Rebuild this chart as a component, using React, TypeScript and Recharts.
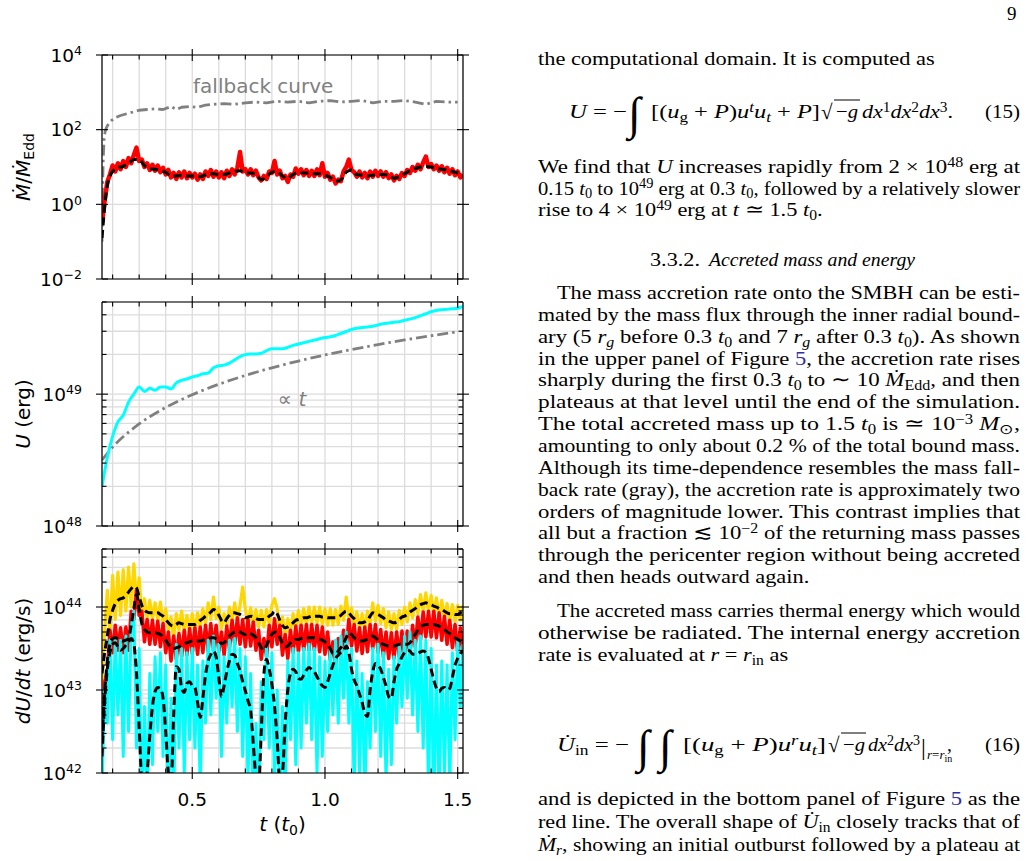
import React from "react";
import { LineChart, Line, XAxis, YAxis, CartesianGrid, ReferenceDot } from "recharts";

const SANS = "DejaVu Sans, sans-serif";
const SERIF = "Liberation Serif, Times New Roman, serif";
const LINK = "#30309c";
const GRAY = "#808080";

// ---- time axis, in units of t0 ----
const tDomain: [number, number] = [0.16, 1.52];
const tTicks = [0.2, 0.3, 0.4, 0.5, 0.6, 0.7, 0.8, 0.9, 1.0, 1.1, 1.2, 1.3, 1.4, 1.5];
const tLabelled = [0.5, 1.0, 1.5];

// ---- top panel: accretion rate / Eddington rate, log10 ----
const fallbackT = [
  0.16, 0.162, 0.165, 0.168, 0.172, 0.177, 0.185, 0.195, 0.21, 0.23, 0.25, 0.28, 0.3, 0.33, 0.36, 0.39,
  0.42, 0.44, 0.46, 0.49, 0.52, 0.55, 0.58, 0.62, 0.66, 0.7, 0.74, 0.78, 0.82, 0.86, 0.9, 0.94, 0.98,
  1.02, 1.06, 1.1, 1.14, 1.18, 1.22, 1.26, 1.3, 1.34, 1.38, 1.42, 1.46, 1.5,
];
const fallbackLog = [
  -1.0, 0.4, 1.3, 1.76, 1.96, 2.06, 2.16, 2.24, 2.32, 2.38, 2.42, 2.48, 2.52, 2.54, 2.56, 2.54,
  2.62, 2.54, 2.6, 2.62, 2.6, 2.66, 2.68, 2.7, 2.68, 2.72, 2.74, 2.72, 2.76, 2.74, 2.76, 2.72, 2.76,
  2.78, 2.74, 2.76, 2.78, 2.72, 2.76, 2.76, 2.78, 2.74, 2.68, 2.76, 2.74, 2.74,
];
// raw output every 0.01 t0 starting at 0.16
const mdotRawLog = [
  -0.5, 0.1, 0.6, 0.8, 1.04, 0.88, 1.1, 0.94, 1.16, 1.0,
  1.24, 1.1, 1.32, 1.52, 1.16, 1.2, 1.0, 1.1, 0.92, 1.06,
  0.9, 1.04, 0.86, 0.98, 0.8, 0.92, 0.72, 0.84, 0.68, 0.86,
  0.72, 0.88, 0.7, 0.84, 0.72, 0.82, 0.66, 0.8, 0.68, 0.88,
  0.76, 0.92, 0.74, 0.88, 0.72, 0.86, 0.7, 0.9, 0.76, 0.94,
  0.8, 0.98, 1.4, 0.88, 0.94, 0.8, 0.94, 0.78, 0.9, 0.72,
  0.64, 0.76, 0.68, 0.88, 0.84, 1.16, 0.8, 0.9, 0.7, 0.76,
  0.6, 0.8, 0.74, 0.96, 0.82, 0.94, 0.78, 0.92, 0.76, 0.9,
  0.76, 0.94, 0.78, 1.1, 0.74, 0.84, 0.66, 0.74, 0.56, 0.66,
  0.62, 0.88, 1.0, 1.2, 0.92, 0.86, 0.74, 0.88, 0.72, 0.84,
  0.7, 0.88, 0.74, 0.9, 0.76, 0.88, 0.74, 0.86, 0.7, 0.8,
  0.64, 0.76, 0.68, 0.84, 0.76, 0.92, 0.84, 1.0, 0.9, 1.06,
  0.94, 1.12, 1.28, 1.0, 1.08, 0.94, 1.04, 0.9, 1.02, 0.86,
  0.98, 0.82, 0.94, 0.78, 0.88, 0.72, 0.8,
];
// running mean every 0.02 t0 starting at 0.16
const mdotAvgLog = [
  -0.9, 0.5, 0.88, 0.98, 1.02, 1.1, 1.2, 1.2, 1.04, 0.96,
  0.94, 0.9, 0.86, 0.76, 0.76, 0.78, 0.76, 0.76, 0.74, 0.76,
  0.82, 0.82, 0.8, 0.8, 0.84, 0.88, 0.9, 0.84, 0.84, 0.8,
  0.66, 0.74, 0.86, 0.88, 0.76, 0.7, 0.8, 0.86, 0.84, 0.84,
  0.82, 0.82, 0.78, 0.72, 0.62, 0.66, 0.86, 0.92, 0.8, 0.78,
  0.76, 0.78, 0.8, 0.8, 0.78, 0.7, 0.74, 0.82, 0.9, 0.96,
  1.0, 1.02, 1.0, 0.96, 0.94, 0.92, 0.88, 0.84, 0.78,
];
const mdotTicks = [1e-2, 1, 1e2, 1e4];

// ---- middle panel: internal energy, log10 erg ----
// every 0.02 t0 starting at 0.16
const energyLog = [
  48.3, 48.52, 48.68, 48.79, 48.84, 48.94, 49.0, 49.055, 49.02, 49.045,
  49.03, 49.055, 49.055, 49.04, 49.085, 49.105, 49.115, 49.13, 49.14, 49.155,
  49.16, 49.2, 49.215, 49.22, 49.235, 49.26, 49.285, 49.3, 49.305, 49.305,
  49.31, 49.33, 49.345, 49.345, 49.345, 49.355, 49.37, 49.38, 49.39, 49.4,
  49.41, 49.42, 49.43, 49.435, 49.445, 49.46, 49.475, 49.49, 49.5, 49.505,
  49.51, 49.515, 49.525, 49.535, 49.54, 49.545, 49.55, 49.56, 49.57, 49.58,
  49.595, 49.61, 49.625, 49.635, 49.64, 49.643, 49.647, 49.652, 49.665,
];
const linearT = [0.16, 0.2, 0.3, 0.4, 0.5, 0.6, 0.7, 0.8, 0.9, 1.0, 1.1, 1.2, 1.3, 1.4, 1.5];
const linearLog = [
  48.501, 48.598, 48.774, 48.899, 48.996, 49.075, 49.142, 49.2, 49.251, 49.297, 49.338, 49.376,
  49.411, 49.443, 49.473,
];
const energyTicks = [1e48, 2e48, 3e48, 4e48, 5e48, 6e48, 7e48, 8e48, 9e48, 1e49, 2e49, 3e49, 4e49, 5e49];

// ---- bottom panel: energy accretion rates, log10 erg/s, every 0.01 t0 ----
const goldRawLog = [
  43.05, 43.7, 44.2, 43.7, 44.38, 43.85, 44.42, 43.9, 44.45, 43.95,
  44.48, 44.0, 44.52, 44.05, 44.35, 43.9, 44.1, 43.85, 44.08, 43.85,
  44.05, 43.84, 44.06, 43.8, 43.98, 43.72, 43.88, 43.62, 43.92, 43.72,
  43.95, 43.7, 43.9, 43.7, 43.92, 43.7, 43.93, 43.75, 43.98, 43.8,
  44.05, 43.85, 44.12, 43.86, 44.0, 43.74, 43.92, 43.77, 44.0, 43.84,
  44.05, 43.83, 44.02, 44.24, 43.98, 43.79, 43.99, 43.78, 43.97, 43.76,
  43.96, 43.76, 43.97, 43.8, 44.02, 44.1, 43.98, 43.74, 43.88, 43.66,
  43.86, 43.69, 43.92, 43.75, 43.96, 43.77, 43.98, 43.78, 44.0, 43.8,
  44.0, 43.8, 44.0, 43.79, 43.98, 43.78, 43.98, 43.78, 43.97, 43.79,
  44.01, 43.84, 44.12, 43.86, 43.99, 43.77, 43.94, 43.73, 43.92, 43.73,
  43.95, 43.8, 44.05, 43.83, 44.02, 43.8, 43.98, 43.75, 43.94, 43.73,
  43.92, 43.73, 43.96, 43.79, 44.0, 43.82, 44.05, 43.87, 44.09, 43.92,
  44.15, 43.95, 44.17, 43.95, 44.14, 43.92, 44.11, 43.89, 44.08, 43.86,
  44.04, 43.83, 44.03, 43.82, 44.02, 43.84, 44.02,
];
const redRawLog = [
  42.3, 43.1, 43.2, 43.72, 43.45, 43.78, 43.48, 43.75, 43.45, 43.76,
  43.48, 43.95, 43.85, 44.2, 43.9, 43.95, 43.58, 43.85, 43.55, 43.84,
  43.55, 43.83, 43.52, 43.8, 43.45, 43.7, 43.35, 43.65, 43.37, 43.68,
  43.4, 43.72, 43.42, 43.74, 43.44, 43.75, 43.43, 43.76, 43.45, 43.78,
  43.47, 43.8, 43.48, 43.78, 43.46, 43.7, 43.42, 43.77, 43.5, 43.84,
  43.55, 43.87, 43.55, 43.85, 43.52, 43.85, 43.53, 43.82, 43.48, 43.72,
  43.37, 43.62, 43.4, 43.78, 43.52, 43.86, 43.55, 43.78, 43.42, 43.67,
  43.38, 43.72, 43.45, 43.77, 43.46, 43.78, 43.48, 43.79, 43.48, 43.79,
  43.48, 43.78, 43.46, 43.76, 43.43, 43.7, 43.36, 43.58, 43.3, 43.62,
  43.37, 43.72, 43.5, 43.85, 43.53, 43.79, 43.47, 43.75, 43.44, 43.76,
  43.46, 43.79, 43.5, 43.79, 43.45, 43.73, 43.4, 43.7, 43.38, 43.69,
  43.38, 43.7, 43.4, 43.71, 43.4, 43.71, 43.42, 43.78, 43.52, 43.88,
  43.61, 43.94, 43.64, 43.95, 43.64, 43.95, 43.63, 43.93, 43.6, 43.89,
  43.55, 43.84, 43.51, 43.79, 43.46, 43.75, 43.42,
];
const cyanRawLog = [
  41.8, 43.0, 42.6, 43.6, 42.4, 43.62, 42.7, 43.6, 42.2, 43.65,
  42.5, 43.75, 43.95, 42.3, 43.5, 41.6, 42.8, 41.5, 43.2, 42.1,
  43.4, 42.5, 43.45, 42.2, 43.3, 41.5, 42.9, 41.6, 43.55, 42.3,
  43.5, 42.0, 43.45, 42.4, 43.5, 42.3, 43.3, 41.8, 43.35, 42.6,
  43.6, 42.7, 43.65, 42.9, 43.55, 42.2, 43.4, 42.6, 43.6, 42.8,
  43.62, 42.5, 43.5, 42.2, 43.4, 41.9, 43.2, 41.5, 42.6, 41.5,
  43.1, 42.4, 43.55, 42.3, 43.45, 41.9, 43.0, 41.5, 42.8, 41.6,
  43.35, 42.4, 43.5, 42.1, 43.45, 42.3, 43.5, 42.6, 43.55, 42.4,
  43.5, 42.0, 43.4, 42.2, 43.35, 42.5, 43.5, 42.7, 43.6, 42.6,
  43.65, 42.9, 43.7, 42.6, 43.5, 41.8, 43.35, 42.0, 43.2, 41.7,
  43.1, 42.3, 43.5, 42.5, 43.55, 42.2, 43.45, 41.9, 43.25, 42.1,
  43.4, 42.6, 43.55, 42.8, 43.65, 42.9, 43.7, 42.7, 43.6, 42.5,
  43.65, 42.3, 43.6, 41.8, 43.5, 41.6, 43.3, 41.7, 43.35, 42.0,
  43.3, 41.8, 43.45, 42.4, 43.6, 42.8, 43.55,
];
const goldAvgLog = [
  43.2, 43.45, 43.65, 43.85, 43.96, 44.04, 44.08, 44.1, 44.11, 44.14,
  44.18, 44.22, 44.25, 44.23, 44.12, 44.02, 43.96, 43.94, 43.93, 43.93,
  43.93, 43.93, 43.91, 43.89, 43.85, 43.81, 43.78, 43.77, 43.79, 43.81,
  43.8, 43.79, 43.79, 43.79, 43.79, 43.79, 43.81, 43.84, 43.86, 43.89,
  43.91, 43.94, 43.97, 43.95, 43.9, 43.84, 43.81, 43.86, 43.9, 43.93,
  43.93, 43.92, 43.91, 43.89, 43.87, 43.88, 43.89, 43.88, 43.86, 43.85,
  43.85, 43.85, 43.86, 43.89, 43.91, 43.95, 43.92, 43.84, 43.78, 43.75,
  43.76, 43.78, 43.81, 43.84, 43.85, 43.86, 43.87, 43.87, 43.88, 43.89,
  43.89, 43.89, 43.89, 43.88, 43.88, 43.87, 43.87, 43.87, 43.87, 43.88,
  43.9, 43.93, 43.95, 43.93, 43.89, 43.86, 43.83, 43.81, 43.81, 43.82,
  43.84, 43.89, 43.93, 43.92, 43.91, 43.89, 43.87, 43.84, 43.83, 43.82,
  43.81, 43.82, 43.85, 43.88, 43.89, 43.91, 43.94, 43.96, 43.98, 44.01,
  44.03, 44.04, 44.05, 44.04, 44.03, 44.01, 44.0, 43.98, 43.97, 43.95,
  43.93, 43.92, 43.92, 43.91, 43.91, 43.93, 43.95,
];
const redAvgLog = [
  42.4, 42.95, 43.35, 43.55, 43.62, 43.63, 43.62, 43.6, 43.59, 43.6,
  43.62, 43.78, 43.98, 44.15, 43.98, 43.8, 43.73, 43.7, 43.69, 43.69,
  43.69, 43.68, 43.67, 43.64, 43.6, 43.55, 43.51, 43.5, 43.51, 43.52,
  43.54, 43.56, 43.57, 43.58, 43.59, 43.59, 43.59, 43.59, 43.6, 43.61,
  43.62, 43.63, 43.63, 43.62, 43.6, 43.56, 43.57, 43.61, 43.65, 43.68,
  43.7, 43.71, 43.7, 43.68, 43.67, 43.69, 43.68, 43.66, 43.63, 43.57,
  43.51, 43.48, 43.54, 43.62, 43.67, 43.7, 43.69, 43.63, 43.56, 43.52,
  43.53, 43.57, 43.6, 43.61, 43.61, 43.62, 43.63, 43.63, 43.63, 43.63,
  43.63, 43.62, 43.61, 43.6, 43.58, 43.55, 43.5, 43.44, 43.44, 43.47,
  43.51, 43.56, 43.63, 43.69, 43.67, 43.63, 43.61, 43.59, 43.59, 43.6,
  43.61, 43.63, 43.65, 43.63, 43.6, 43.57, 43.55, 43.54, 43.53, 43.53,
  43.53, 43.54, 43.55, 43.55, 43.55, 43.55, 43.57, 43.62, 43.67, 43.72,
  43.76, 43.78, 43.79, 43.79, 43.79, 43.79, 43.78, 43.77, 43.75, 43.73,
  43.7, 43.68, 43.66, 43.63, 43.61, 43.59, 43.57,
];
const cyanAvgLog = [
  42.2, 42.85, 43.25, 43.45, 43.55, 43.57, 43.52, 43.48, 43.5, 43.54,
  43.58, 43.62, 43.55, 43.2, 42.55, 41.9, 41.75, 42.0, 42.45, 42.8,
  42.98, 43.03, 43.02, 42.9, 42.5, 42.0, 41.85, 42.7, 43.28, 43.25,
  43.02, 42.97, 43.08, 43.1, 43.05, 43.03, 42.85, 42.67, 42.9, 43.18,
  43.35, 43.43, 43.47, 43.4, 43.15, 42.92, 43.05, 43.22, 43.35, 43.43,
  43.42, 43.32, 43.23, 43.1, 42.99, 42.87, 42.75, 42.35, 41.95, 41.85,
  42.5, 43.2, 43.37, 43.25, 43.07, 42.8, 42.4, 41.9, 42.0, 42.6,
  43.0, 43.2, 43.25, 43.22, 43.14, 43.13, 43.18, 43.24, 43.27, 43.25,
  43.22, 43.16, 43.1, 43.05, 43.03, 43.1, 43.2, 43.3, 43.38, 43.42,
  43.45, 43.47, 43.53, 43.45, 43.25, 43.12, 43.05, 42.95, 42.85, 42.72,
  42.68, 43.0, 43.22, 43.32, 43.3, 43.25, 43.15, 43.05, 42.92, 42.9,
  43.1, 43.25, 43.32, 43.4, 43.45, 43.48, 43.47, 43.43, 43.43, 43.44,
  43.46, 43.47, 43.45, 43.38, 43.25, 43.12, 43.02, 42.98, 43.02, 43.03,
  43.0, 43.02, 43.15, 43.3, 43.38, 43.44, 43.47,
];
const rateTicks = [
  1e42, 2e42, 3e42, 4e42, 5e42, 6e42, 7e42, 8e42, 9e42,
  1e43, 2e43, 3e43, 4e43, 5e43, 6e43, 7e43, 8e43, 9e43,
  1e44, 2e44, 3e44, 4e44, 5e44,
];

// ---- helpers ----
const grid = (start: number, step: number, n: number) =>
  Array.from({ length: n }, (_, i) => Math.round((start + step * i) * 1000) / 1000);
const rows = (ts: number[], logs: number[]) => ts.map((t, i) => ({ t, v: 10 ** logs[i] }));

const fineT = grid(0.16, 0.01, 137);
const coarseT = grid(0.16, 0.02, 69);

const AXIS_LINE = { stroke: "#000", strokeWidth: 1.2 };
const DASH = "8 4.5";
const DASH_DOT = "11 4 2.5 4";

function TimeTick(props: any) {
  const { x, y, payload, side, labelled } = props;
  const value: number = payload.value;
  const major = tLabelled.includes(value);
  const out = side === "bottom" ? 1 : -1;
  return (
    <g>
      <line x1={x} x2={x} y1={major ? y + out * 6 : y} y2={y - out * (major ? 6 : 4.5)} stroke="#000" strokeWidth={1.1} />
      {labelled && major && (
        <text x={x} y={y + 33} textAnchor="middle" fontFamily={SANS} fontSize={18.5} fill="#000">
          {value.toFixed(1)}
        </text>
      )}
    </g>
  );
}

function LogTick(props: any) {
  const { x, y, payload, side, labelled } = props;
  const value: number = payload.value;
  const exp = Math.round(Math.log10(value));
  const major = Math.abs(Math.log10(value) - exp) < 1e-6;
  const out = side === "left" ? -1 : 1;
  return (
    <g>
      <line x1={major ? x + out * 6 : x} x2={x - out * (major ? 6 : 4.5)} y1={y} y2={y} stroke="#000" strokeWidth={1.1} />
      {labelled && major && (
        <text x={x - 20} y={y + 6.5} textAnchor="end" fontFamily={SANS} fontSize={18.5} fill="#000">
          10<tspan dy={-6.3} fontSize={12.5}>{exp < 0 ? "\u2212" + -exp : String(exp)}</tspan>
        </text>
      )}
    </g>
  );
}

const Rotated = ({ children }: { children: React.ReactNode }) => (
  <text transform="translate(30,133) rotate(-90)" textAnchor="middle" fontFamily={SANS} fontSize={20} fill="#000">
    {children}
  </text>
);

const MdotTitle = () => (
  <Rotated>
    <tspan fontStyle="italic">{"\u1E40"}</tspan>/<tspan fontStyle="italic">{"\u1E40"}</tspan>
    <tspan dy={4} fontSize={14}>Edd</tspan>
  </Rotated>
);
const EnergyTitle = () => (
  <Rotated>
    <tspan fontStyle="italic">U</tspan> (erg)
  </Rotated>
);
const RateTitle = () => (
  <Rotated>
    <tspan fontStyle="italic">dU</tspan>/<tspan fontStyle="italic">dt</tspan> (erg/s)
  </Rotated>
);
const TimeTitle = () => (
  <text x={282.5} y={302.5} textAnchor="middle" fontFamily={SANS} fontSize={20} fill="#000">
    <tspan fontStyle="italic">t</tspan> (<tspan fontStyle="italic">t</tspan>
    <tspan dy={4} fontSize={14}>0</tspan>
    <tspan dy={-4}>)</tspan>
  </text>
);

const FallbackNote = (p: any) => {
  const vb = p.viewBox || { x: 0, y: 0 };
  return (
    <text x={vb.x + 1} y={vb.y + 1} fontFamily={SANS} fontSize={20} fill={GRAY}>
      fallback curve
    </text>
  );
};
const LinearNote = (p: any) => {
  const vb = p.viewBox || { x: 0, y: 0 };
  return (
    <text x={vb.x + 1} y={vb.y + 1} fontFamily={SANS} fontSize={20} fill={GRAY}>
      {"\u221D "}<tspan fontStyle="italic">t</tspan>
    </text>
  );
};

type PanelProps = {
  top: number;
  height: number;
  yDomain: [number, number];
  yTicks: number[];
  title: () => React.ReactElement;
  timeLabels?: boolean;
  children: React.ReactNode;
};

// one framed log-y panel sharing the time axis; plot area is 361 x 224
function Panel({ top, height, yDomain, yTicks, title, timeLabels = false, children }: PanelProps) {
  return (
    <div style={{ position: "absolute", left: 0, top }}>
      <LineChart width={480} height={height} margin={{ top: 20, right: 16, bottom: timeLabels ? 5 : 12, left: 0 }}>
        <CartesianGrid stroke="#dcdcdc" strokeWidth={1.3} />
        <XAxis
          dataKey="t"
          type="number"
          domain={tDomain}
          ticks={tTicks}
          interval={0}
          allowDataOverflow
          height={timeLabels ? 70 : 1}
          tickSize={0}
          tickMargin={0}
          tickLine={false}
          axisLine={AXIS_LINE}
          tick={<TimeTick side="bottom" labelled={timeLabels} />}
          label={timeLabels ? { content: TimeTitle } : undefined}
        />
        <XAxis
          xAxisId="top"
          orientation="top"
          dataKey="t"
          type="number"
          domain={tDomain}
          ticks={tTicks}
          interval={0}
          allowDataOverflow
          height={1}
          tickSize={0}
          tickMargin={0}
          tickLine={false}
          axisLine={AXIS_LINE}
          tick={<TimeTick side="top" />}
        />
        <YAxis
          scale="log"
          type="number"
          domain={yDomain}
          ticks={yTicks}
          interval={0}
          allowDataOverflow
          width={102}
          tickSize={0}
          tickMargin={0}
          tickLine={false}
          axisLine={AXIS_LINE}
          tick={<LogTick side="left" labelled />}
          label={{ content: title }}
        />
        <YAxis
          yAxisId="right"
          orientation="right"
          scale="log"
          type="number"
          domain={yDomain}
          ticks={yTicks}
          interval={0}
          allowDataOverflow
          width={1}
          tickSize={0}
          tickMargin={0}
          tickLine={false}
          axisLine={AXIS_LINE}
          tick={<LogTick side="right" />}
        />
        {children}
      </LineChart>
    </div>
  );
}

const seriesProps = {
  dataKey: "v",
  dot: false,
  activeDot: false,
  isAnimationActive: false,
  strokeLinejoin: "round" as const,
};

type ProseLine = { x: number; y: number; w?: number; s: string; size?: number };

// *italic*, ^{sup}, _{sub}, #link#
function parseMarkup(src: string) {
  const out: { text: string; italic: boolean; level: number; link: boolean }[] = [];
  let italic = false;
  let level = 0;
  let link = false;
  let buf = "";
  const flush = () => {
    if (buf) out.push({ text: buf, italic, level, link });
    buf = "";
  };
  for (let i = 0; i < src.length; i++) {
    const c = src[i];
    if (c === "*") {
      flush();
      italic = !italic;
    } else if (c === "#") {
      flush();
      link = !link;
    } else if ((c === "^" || c === "_") && src[i + 1] === "{") {
      flush();
      level = c === "^" ? 1 : -1;
      i++;
    } else if (c === "}" && level !== 0) {
      flush();
      level = 0;
    } else {
      buf += c;
    }
  }
  flush();
  return out;
}

// justified lines get an exact width; ragged ones are just widened like the book face
const WIDEN = 1.147;

function Prose({ x, y, w, s, size = 19.5 }: ProseLine) {
  const segs = parseMarkup(s);
  let shift = 0;
  const fit = w
    ? { x, textLength: w, lengthAdjust: "spacingAndGlyphs" }
    : { x: 0, transform: `translate(${x} 0) scale(${WIDEN} 1)` };
  return (
    <text y={y} fontSize={size} {...fit}>
      {segs.map((g, i) => {
        const target = g.level === 1 ? -0.33 * size : g.level === -1 ? 0.2 * size : 0;
        const dy = target - shift;
        shift = target;
        return (
          <tspan
            key={i}
            dy={dy}
            fontStyle={g.italic ? "italic" : undefined}
            fontSize={g.level ? size * 0.7 : undefined}
            fill={g.link ? LINK : undefined}
          >
            {g.text}
          </tspan>
        );
      })}
    </text>
  );
}

const prose: ProseLine[] = [
  { x: 538, y: 65, s: "the computational domain. It is computed as" },
  { x: 538, y: 173, w: 482, s: "We find that *U* increases rapidly from 2 \u00D7 10^{48} erg at" },
  { x: 538, y: 194.5, w: 482, s: "0.15 *t*_{0} to 10^{49} erg at 0.3 *t*_{0}, followed by a relatively slower" },
  { x: 538, y: 216, s: "rise to 4 \u00D7 10^{49} erg at *t* \u2243 1.5 *t*_{0}." },
  { x: 557, y: 299, w: 463, s: "The mass accretion rate onto the SMBH can be esti-" },
  { x: 538, y: 320.9, w: 482, s: "mated by the mass flux through the inner radial bound-" },
  { x: 538, y: 342.7, w: 482, s: "ary (5 *r*_{*g*} before 0.3 *t*_{0} and 7 *r*_{*g*} after 0.3 *t*_{0}).  As shown" },
  { x: 538, y: 364.6, w: 482, s: "in the upper panel of Figure #5#, the accretion rate rises" },
  { x: 538, y: 386.4, w: 482, s: "sharply during the first 0.3 *t*_{0} to \u223C 10 *\u1E40*_{Edd}, and then" },
  { x: 538, y: 408.3, w: 482, s: "plateaus at that level until the end of the simulation." },
  { x: 538, y: 430.1, w: 482, s: "The total accreted mass up to 1.5 *t*_{0} is \u2243 10^{\u22123} *M*_{\u2299}," },
  { x: 538, y: 452, w: 482, s: "amounting to only about 0.2 % of the total bound mass." },
  { x: 538, y: 473.8, w: 482, s: "Although its time-dependence resembles the mass fall-" },
  { x: 538, y: 495.7, w: 482, s: "back rate (gray), the accretion rate is approximately two" },
  { x: 538, y: 517.5, w: 482, s: "orders of magnitude lower.  This contrast implies that" },
  { x: 538, y: 539.4, w: 482, s: "all but a fraction \u2272 10^{\u22122} of the returning mass passes" },
  { x: 538, y: 561.2, w: 482, s: "through the pericenter region without being accreted" },
  { x: 538, y: 583, s: "and then heads outward again." },
  { x: 557, y: 617, w: 463, s: "The accreted mass carries thermal energy which would" },
  { x: 538, y: 639, w: 482, s: "otherwise be radiated.  The internal energy accretion" },
  { x: 538, y: 661, s: "rate is evaluated at *r* = *r*_{in} as" },
  { x: 538, y: 805, w: 482, s: "and is depicted in the bottom panel of Figure #5# as the" },
  { x: 538, y: 828, w: 482, s: "red line. The overall shape of *U\u0307*_{in} closely tracks that of" },
  { x: 538, y: 851, w: 482, s: "*\u1E40*_{*r*}, showing an initial outburst followed by a plateau at" },
];

function PageText() {
  return (
    <svg width={1029} height={861} style={{ position: "absolute", left: 0, top: 0 }}>
      <g fontFamily={SERIF} fill="#000">
        <text x={1007} y={20} fontSize={19}>9</text>
        {prose.map((l, i) => (
          <Prose key={i} {...l} />
        ))}
        {/* section heading */}
        <Prose x={650} y={266} w={50} s="3.3.2." size={18} />
        <Prose x={709} y={266} w={206} s="*Accreted mass and energy*" size={18} />

        {/* eq. 15 */}
        <Prose x={569} y={118} w={58} s={"*U* = \u2212"} />
        <text x={628} y={129} fontSize={46} fontStyle="italic">{"\u222B"}</text>
        <Prose x={651} y={118} w={169} s="[(*u*_{g} + *P*)*u*^{*t*}*u*_{*t*} + *P*]" />
        <text x={821} y={119} fontSize={21}>{"\u221A"}</text>
        <line x1={834} x2={860} y1={100} y2={100} stroke="#000" strokeWidth={1} />
        <Prose x={836} y={118} w={22} s={"\u2212*g*"} />
        <Prose x={862} y={118} w={91} s="*dx*^{1}*dx*^{2}*dx*^{3}." />
        <Prose x={985} y={118} w={35} s="(15)" />

        {/* eq. 16 */}
        <Prose x={557} y={751} w={72} s={"*U\u0307*_{in} = \u2212"} />
        <text x={637} y={762} fontSize={46} fontStyle="italic">{"\u222B"}</text>
        <text x={659} y={762} fontSize={46} fontStyle="italic">{"\u222B"}</text>
        <Prose x={683} y={751} w={143} s="[(*u*_{g} + *P*)*u*^{*r*}*u*_{*t*}]" />
        <text x={828} y={752} fontSize={21}>{"\u221A"}</text>
        <line x1={841} x2={866} y1={733} y2={733} stroke="#000" strokeWidth={1} />
        <Prose x={843} y={751} w={22} s={"\u2212*g*"} />
        <Prose x={868} y={751} w={52} s="*dx*^{2}*dx*^{3}" />
        <text x={921} y={755} fontSize={24}>|</text>
        <text x={927} y={759} fontSize={13}>
          <tspan fontStyle="italic">r</tspan>=<tspan fontStyle="italic">r</tspan>
          <tspan dy={3} fontSize={10}>in</tspan>
        </text>
        <text x={947} y={751} fontSize={19.5}>,</text>
        <Prose x={985} y={751} w={35} s="(16)" />
      </g>
    </svg>
  );
}

export default function App() {
  return (
    <div style={{ position: "absolute", left: 0, top: 0, width: 1029, height: 861, background: "#fff", overflow: "hidden" }}>
      <Panel top={34} height={258} yDomain={[1e-2, 1e4]} yTicks={mdotTicks} title={MdotTitle}>
        <Line {...seriesProps} data={rows(fallbackT, fallbackLog)} type="linear" stroke={GRAY} strokeWidth={2.8} strokeDasharray={DASH_DOT} />
        <Line {...seriesProps} data={rows(fineT, mdotRawLog)} type="linear" stroke="#ff0000" strokeWidth={4.5} />
        <Line {...seriesProps} data={rows(coarseT, mdotAvgLog)} type="monotone" stroke="#000" strokeWidth={3} strokeDasharray={DASH} />
        <ReferenceDot x={0.503} y={10 ** 2.97} r={1} fill="none" stroke="none" label={{ content: FallbackNote }} />
      </Panel>

      <Panel top={281} height={258} yDomain={[1e48, 5e49]} yTicks={energyTicks} title={EnergyTitle}>
        <Line {...seriesProps} data={rows(linearT, linearLog)} type="monotone" stroke={GRAY} strokeWidth={2.8} strokeDasharray={DASH_DOT} />
        <Line {...seriesProps} data={rows(coarseT, energyLog)} type="monotone" stroke="#00ffff" strokeWidth={3} />
        <ReferenceDot x={0.822} y={10 ** 48.909} r={1} fill="none" stroke="none" label={{ content: LinearNote }} />
      </Panel>

      <Panel top={528} height={320} yDomain={[1e42, 5e44]} yTicks={rateTicks} title={RateTitle} timeLabels>
        <Line {...seriesProps} data={rows(fineT, goldRawLog)} type="linear" stroke="#ffd700" strokeWidth={3.2} />
        <Line {...seriesProps} data={rows(fineT, redRawLog)} type="linear" stroke="#ff0000" strokeWidth={3.5} />
        <Line {...seriesProps} data={rows(fineT, cyanRawLog)} type="linear" stroke="#00ffff" strokeWidth={3} />
        <Line {...seriesProps} data={rows(fineT, goldAvgLog)} type="monotone" stroke="#000" strokeWidth={3} strokeDasharray={DASH} />
        <Line {...seriesProps} data={rows(fineT, redAvgLog)} type="monotone" stroke="#000" strokeWidth={3} strokeDasharray={DASH} />
        <Line {...seriesProps} data={rows(fineT, cyanAvgLog)} type="monotone" stroke="#000" strokeWidth={3} strokeDasharray={DASH} />
      </Panel>

      <PageText />
    </div>
  );
}
